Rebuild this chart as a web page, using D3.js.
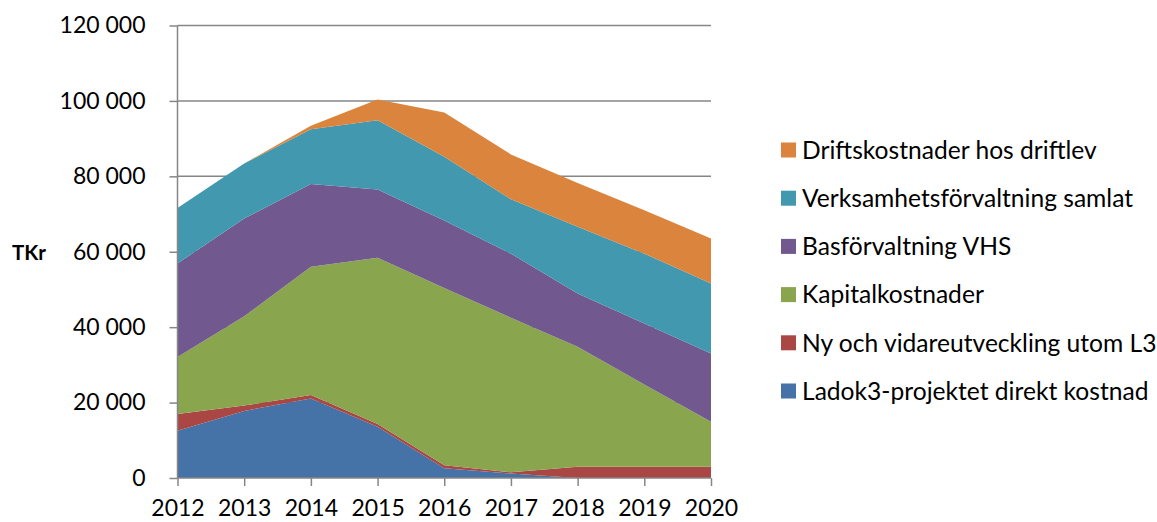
<!DOCTYPE html>
<html><head><meta charset="utf-8">
<script src="https://cdn.jsdelivr.net/npm/d3@7"></script>
<style>body{margin:0;background:#fff}svg{display:block}text{font-family:Lato,"Open Sans",sans-serif;fill:#000}</style>
</head><body><svg id="c" width="1157" height="522"></svg>
<script>
const years = [2012,2013,2014,2015,2016,2017,2018,2019,2020];
const ladok3 = [12500,17800,21100,13600,2600,1200,0,0,0];
const nyUtveckling = [4500,1400,900,700,800,300,3000,3000,3000];
const kapital = [15100,23700,34000,44100,47000,41000,31800,21800,11900];
const basforvaltning = [24800,25900,22000,18100,17900,17000,14100,16200,18100];
const verksamhet = [14700,14600,14500,18400,16900,14400,17700,18500,18600];
const drift = [0,0,900,5500,11700,11900,11600,11500,11900];
const seriesNames = ["Ladok3-projektet direkt kostnad","Ny och vidareutveckling utom L3","Kapitalkostnader","Basförvaltning VHS","Verksamhetsförvaltning samlat","Driftskostnader hos driftlev"];
const seriesData = [ladok3,nyUtveckling,kapital,basforvaltning,verksamhet,drift];
const colors = ["#4572A7","#AA4643","#89A54E","#71588F","#4198AF","#DB843D"];
const yTicks = [0,20000,40000,60000,80000,100000,120000];

const svg = d3.select("#c");
const x = d3.scaleLinear().domain([2012,2020]).range([177.5,711]);
const y = d3.scaleLinear().domain([0,120000]).range([478,25.5]);

const rows = years.map((yr,i)=>{const o={year:yr};seriesNames.forEach((n,k)=>o[n]=seriesData[k][i]);return o;});
const stack = d3.stack().keys(seriesNames)(rows);

svg.append("g").selectAll("line").data(yTicks.slice(1)).join("line")
  .attr("x1",x(2012)).attr("x2",x(2020)).attr("y1",d=>y(d)).attr("y2",d=>y(d))
  .attr("stroke","#868686").attr("stroke-width",1.5);

const area = d3.area().x(d=>x(d.data.year)).y0(d=>y(d[0])).y1(d=>y(d[1]));
svg.append("g").selectAll("path").data(stack).join("path")
  .attr("d",area).attr("fill",(d,i)=>colors[i]);

const fmt = v => d3.format(",")(v).replace(/,/g," ");
const ya = svg.append("g").attr("transform",`translate(${x(2012)},0)`)
  .call(d3.axisLeft(y).tickValues(yTicks).tickFormat(fmt).tickSize(8).tickPadding(24));
ya.select(".domain").attr("stroke","#868686").attr("stroke-width",1.5).attr("d",`M0,${y(0)}V${y(120000)}`);
ya.selectAll(".tick line").attr("stroke","#868686").attr("stroke-width",1.5);
ya.selectAll("text").attr("font-size",23).attr("font-family","Lato");

const xa = svg.append("g").attr("transform",`translate(0,${y(0)})`)
  .call(d3.axisBottom(x).tickValues(years).tickFormat(d3.format("d")).tickSize(8).tickPadding(14));
xa.select(".domain").attr("stroke","#868686").attr("stroke-width",1.5).attr("d",`M${x(2012)},0H${x(2020)}`);
xa.selectAll(".tick line").attr("stroke","#868686").attr("stroke-width",1.5);
xa.selectAll("text").attr("font-size",23).attr("font-family","Lato");

svg.append("text").attr("x",12).attr("y",253).attr("dy","0.35em")
  .attr("font-size",20.5).attr("font-weight","bold").text("TKr");

const legendOrder = [5,4,3,2,1,0];
const lg = svg.append("g").selectAll("g").data(legendOrder).join("g")
  .attr("transform",(d,i)=>`translate(781,${150+i*48.2})`);
lg.append("rect").attr("x",0).attr("y",-7.5).attr("width",15).attr("height",15).attr("fill",d=>colors[d]);
lg.append("text").attr("x",21).attr("y",0).attr("dy","0.36em").attr("font-size",24.6)
  .text(d=>seriesNames[d]);
</script></body></html>
